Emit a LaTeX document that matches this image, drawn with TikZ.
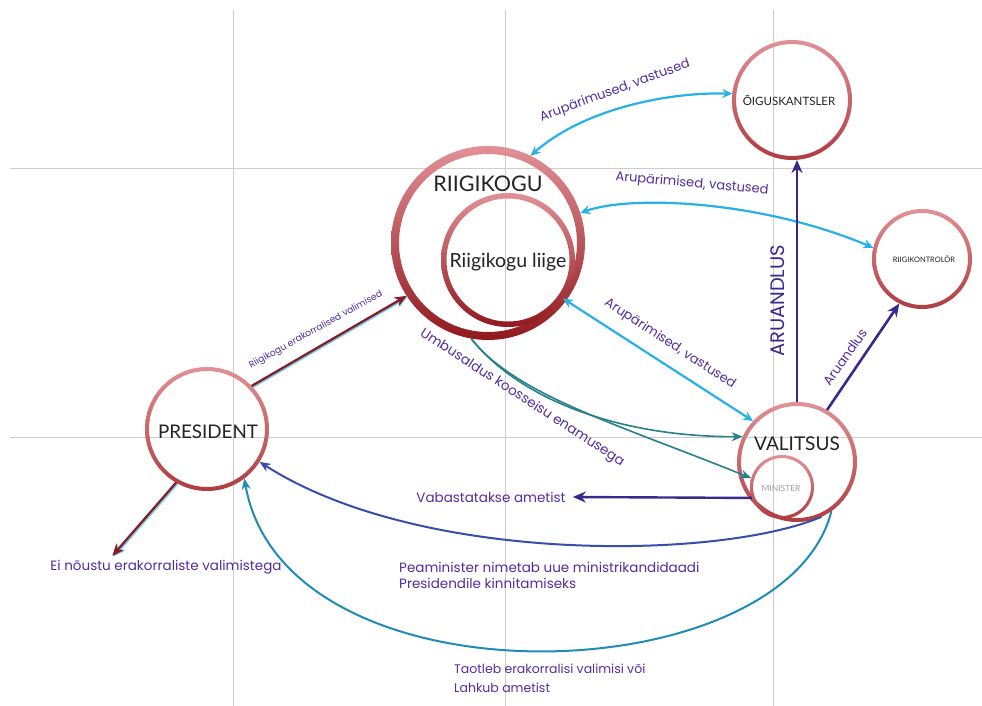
\documentclass[tikz,border=0pt]{standalone}
\usepackage{fontspec}
\setmainfont{Lato}
\newfontfamily\hand{Poppins}
\usetikzlibrary{arrows.meta,calc}
\definecolor{gridc}{RGB}{205,205,208}
\definecolor{ringtop}{RGB}{225,145,150}
\definecolor{ringbot}{RGB}{175,60,65}
\definecolor{ringdark}{RGB}{145,25,30}
\definecolor{cyanc}{RGB}{38,178,230}
\definecolor{aruc}{RGB}{58,40,140}
\definecolor{bluec}{RGB}{55,78,172}
\definecolor{tealc}{RGB}{32,140,182}
\definecolor{umbc}{RGB}{40,128,140}
\definecolor{redc}{RGB}{140,25,32}
\definecolor{lblc}{RGB}{82,45,160}
\definecolor{txtc}{RGB}{35,35,40}
\begin{document}
\begin{tikzpicture}[x=1pt,y=-1pt,
  ringnode/.style={circle, inner sep=0pt, outer sep=0pt},
  ntext/.style={text=txtc, inner sep=1pt},
  lbl/.style={text=lblc, inner sep=1pt, font=\hand\fontsize{13.5}{16}\selectfont},
  cyanarr/.style={draw=cyanc, line width=2.2pt, {Stealth[length=10pt,width=9pt]}-{Stealth[length=10pt,width=9pt]}},
  aruarr/.style={draw=aruc, line width=2.6pt, -{Stealth[length=13pt,width=11pt]}},
  redarr/.style={draw=redc, line width=2.2pt, -{Stealth[length=12pt,width=10pt]},
     preaction={draw=cyanc!70, line width=3pt, transform canvas={shift={(0.8pt,-0.8pt)}}}},
  bluearr/.style={draw=bluec, line width=2pt, -{Stealth[length=11pt,width=9pt]}},
  tealarr/.style={draw=tealc, line width=2pt, -{Stealth[length=11pt,width=9pt]}},
  umbarr/.style={draw=umbc, line width=1.6pt, -{Stealth[length=11pt,width=9pt]}},
  gridline/.style={draw=gridc, line width=0.9pt}
]
\useasboundingbox (0,0) rectangle (982,706);
\fill[white] (0,0) rectangle (982,706);

% grid
\draw[gridline] (233,10) -- (233,706);
\draw[gridline] (505,10) -- (505,706);
\draw[gridline] (773,10) -- (773,706);
\draw[gridline] (10,168) -- (982,168);
\draw[gridline] (10,437) -- (982,437);

% circle nodes (borders)
\node[ringnode, minimum size=194pt] (rk) at (488,243) {};
\node[ringnode, minimum size=134pt] (rl) at (508,260) {};
\node[ringnode, minimum size=120pt] (ok) at (792,100) {};
\node[ringnode, minimum size=100pt] (rkc) at (922,259) {};
\node[ringnode, minimum size=124pt] (pr) at (207,429) {};
\node[ringnode, minimum size=120pt] (vs) at (797,462) {};
\node[ringnode, minimum size=64pt] (mn) at (782,487) {};

% rings
\shade[even odd rule, top color=ringtop, bottom color=ringdark] (rk.center) circle[radius=97pt] (rk.center) circle[radius=89pt];
\shade[even odd rule, top color=ringtop, bottom color=ringdark] (rl.center) circle[radius=67pt] (rl.center) circle[radius=61.5pt];
\shade[even odd rule, top color=ringtop, bottom color=ringbot] (ok.center) circle[radius=60pt] (ok.center) circle[radius=56pt];
\shade[even odd rule, top color=ringtop, bottom color=ringbot] (rkc.center) circle[radius=50pt] (rkc.center) circle[radius=46pt];
\shade[even odd rule, top color=ringtop, bottom color=ringbot] (pr.center) circle[radius=62pt] (pr.center) circle[radius=58pt];
\shade[even odd rule, top color=ringtop, bottom color=ringbot] (vs.center) circle[radius=60pt] (vs.center) circle[radius=56pt];
\shade[even odd rule, top color=ringtop, bottom color=ringbot] (mn.center) circle[radius=32pt] (mn.center) circle[radius=29pt];

% node texts
\node[ntext, font=\fontsize{21.5}{22}\selectfont] (rkt) at (488,184) {RIIGIKOGU};
\node[ntext, font=\fontsize{19.5}{20}\selectfont] (rlt) at (508,262) {Riigikogu liige};
\node[ntext, font=\fontsize{11.5}{12}\selectfont] (okt) at (789,100) {ÕIGUSKANTSLER};
\node[ntext, font=\fontsize{7.5}{8}\selectfont] (rkct) at (924,259) {RIIGIKONTROLÖR};
\node[ntext, font=\fontsize{18.8}{19}\selectfont] (prt) at (208,432) {PRESIDENT};
\node[ntext, font=\fontsize{19}{19}\selectfont] (vst) at (797,444) {VALITSUS};
\node[text=gray!75, inner sep=1pt, font=\fontsize{8.5}{9}\selectfont] (mnt) at (781,488) {MINISTER};

% labels
\node[lbl, rotate=20, font=\hand\fontsize{13}{15}\selectfont] (l1) at (615,91) {Arupärimused, vastused};
\node[lbl, rotate=-5, font=\hand\fontsize{13}{15}\selectfont] (l2) at (692,184) {Arupärimised, vastused};
\node[lbl, rotate=-33, font=\hand\fontsize{13}{15}\selectfont] (l3) at (670,344) {Arupärimised, vastused};
\node[lbl, rotate=90, font=\hand\fontsize{19.5}{20}\selectfont, text=aruc] (l4) at (778,301) {ARUANDLUS};
\node[lbl, rotate=55, font=\hand\fontsize{13}{15}\selectfont] (l5) at (845,357) {Aruandlus};
\node[lbl, rotate=29, font=\hand\fontsize{9.2}{11}\selectfont] (l6) at (316,330) {Riigikogu erakorralised valimised};
\node[lbl, rotate=-33] (l7) at (522,398) {Umbusaldus koosseisu enamusega};
\node[lbl] (vab) at (491,497) {Vabastatakse ametist};
\node[lbl, anchor=west, align=left] (pea) at (398,575) {Peaminister nimetab uue ministrikandidaadi\\Presidendile kinnitamiseks};
\node[lbl, anchor=west, align=left, font=\hand\fontsize{12.5}{19}\selectfont] (tao) at (453,678) {Taotleb erakorralisi valimisi või\\Lahkub ametist};
\node[lbl] (ei) at (166,567) {Ei nõustu erakorraliste valimistega};

% connectors
\draw[cyanarr] (ok.174) .. controls (670,92) and (585,108) .. (rk.64);
\draw[cyanarr] (rk.18) .. controls (630,195) and (760,200) .. (rkc.167);
\draw[cyanarr] (rl.-35) -- (vs.137);
\draw[aruarr] (vs.north) -- (vs.north |- ok.south);
\draw[aruarr] (vs.60) -- (rkc.-117);
\draw[redarr] (pr.44) -- (rk.213);
\draw[umbarr] (rk.-100) .. controls (520,400) and (620,437) .. (vs.155);
\draw[umbarr] (rk.-100) .. controls (515,395) and (620,425) .. (mn.164);
\draw[aruarr, line width=2.4pt] (mn.200) -- ($(vab.east)+(6,0)$);
\draw[bluearr] (vs.-66) .. controls (720,560) and (420,565) .. (pr.-32);
\draw[tealarr] (vs.-55) .. controls (785,695) and (285,710) .. (pr.-53);
\draw[redarr] (pr.-120) -- ($(ei.north west)!0.27!(ei.north east)+(0,-3)$);
\end{tikzpicture}
\end{document}
